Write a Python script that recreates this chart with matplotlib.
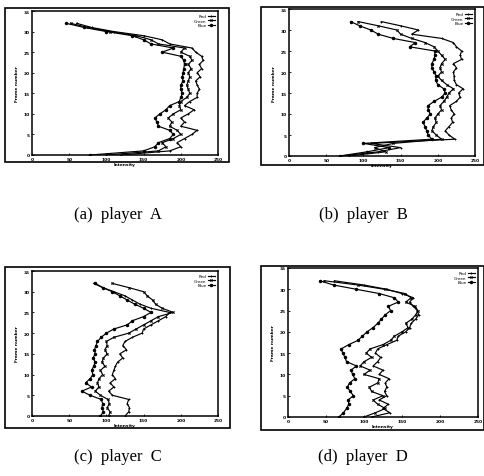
import matplotlib
matplotlib.use("Agg")
import matplotlib.pyplot as plt
from matplotlib.patches import Rectangle

W, H = 485, 477

# intensity per frame (frame 0..32)
frames = list(range(33))

a_red = [120, 185, 200, 195, 205, 215, 222, 200, 205, 200, 210, 218, 205, 212, 222, 222, 225,
         222, 220, 226, 222, 228, 225, 230, 228, 220, 215, 185, 175, 150, 110, 80, 60]
a_green = [100, 170, 180, 175, 190, 200, 195, 185, 188, 183, 190, 200, 198, 200, 208, 212, 210,
           208, 210, 212, 210, 214, 210, 215, 212, 200, 205, 170, 160, 140, 105, 75, 52]
a_blue = [78, 150, 165, 170, 185, 190, 185, 170, 168, 165, 172, 180, 185, 198, 200, 202, 200,
          200, 203, 202, 203, 204, 205, 204, 200, 175, 190, 160, 150, 135, 100, 70, 46]

b_red = [70, 120, 150, 110, 223, 215, 210, 215, 220, 218, 222, 218, 216, 225, 230, 228, 234,
         225, 222, 222, 221, 225, 221, 232, 230, 232, 225, 221, 205, 165, 174, 150, 124]
b_green = [80, 130, 115, 140, 205, 198, 192, 194, 198, 196, 200, 205, 203, 208, 212, 215, 221,
           212, 205, 200, 205, 203, 205, 210, 205, 200, 195, 183, 165, 150, 145, 120, 93]
b_blue = [68, 105, 135, 100, 192, 187, 185, 183, 180, 185, 190, 187, 187, 195, 205, 210, 208,
          200, 197, 198, 195, 192, 192, 195, 196, 196, 162, 170, 140, 120, 110, 95, 83]

c_red = [125, 130, 131, 128, 130, 108, 103, 110, 105, 112, 108, 110, 112, 115, 122, 118, 127,
         122, 125, 135, 148, 150, 160, 170, 180, 185, 160, 145, 135, 125, 110, 95, 83]
c_green = [103, 105, 101, 104, 102, 92, 85, 90, 88, 90, 95, 92, 98, 94, 96, 101, 98,
           101, 100, 110, 130, 140, 150, 160, 170, 190, 175, 166, 162, 155, 150, 130, 108]
c_blue = [92, 96, 94, 95, 93, 78, 67, 80, 72, 78, 82, 80, 83, 85, 82, 85, 84,
          86, 88, 93, 100, 110, 128, 135, 150, 160, 150, 138, 128, 118, 108, 95, 85]

d_red = [110, 134, 125, 132, 120, 130, 127, 130, 128, 133, 120, 125, 112, 118, 122, 115, 118,
         130, 143, 145, 155, 160, 162, 168, 172, 170, 165, 160, 165, 150, 130, 100, 61]
d_green = [100, 115, 128, 118, 112, 125, 110, 107, 118, 120, 100, 108, 95, 100, 110, 103, 108,
           125, 135, 140, 150, 158, 155, 163, 168, 171, 167, 155, 162, 154, 127, 92, 48]
d_blue = [67, 73, 77, 80, 79, 86, 82, 78, 81, 88, 85, 83, 90, 77, 75, 72, 70,
          80, 92, 98, 104, 112, 118, 123, 128, 135, 132, 145, 140, 120, 90, 60, 42]

captions = ["(a)  player  A", "(b)  player  B", "(c)  player  C", "(d)  player  D"]
series = [(a_red, a_green, a_blue), (b_red, b_green, b_blue),
          (c_red, c_green, c_blue), (d_red, d_green, d_blue)]

# pixel boxes (x0, y0, x1, y1) for axes and outer frames
ax_boxes = [(32, 12, 218, 156), (289, 10, 475, 157), (32, 272, 218, 417), (288, 269, 478, 418)]
frame_boxes = [(5, 9, 229, 163), (261, 8, 484, 166), (5, 268, 230, 429), (261, 267, 484, 431)]
cap_pos = [(118, 215), (363, 215), (118, 457), (363, 457)]


def fig_rect(b):
    x0, y0, x1, y1 = b
    return [x0 / W, 1 - y1 / H, (x1 - x0) / W, (y1 - y0) / H]


fig = plt.figure(figsize=(W / 100, H / 100), dpi=100)

for i in range(4):
    ax = fig.add_axes(fig_rect(ax_boxes[i]))
    r, g, b = series[i]
    ax.plot(r, frames, color="black", lw=0.85, marker="+", ms=2, mew=0.7, label="Red")
    ax.plot(g, frames, color="black", lw=0.85, marker="x", ms=1.6, mew=0.7, label="Green")
    ax.plot(b, frames, color="black", lw=0.85, marker="o", ms=1.5, label="Blue")
    ax.set_xlim(0, 250)
    ax.set_ylim(0, 35)
    ax.set_xticks([0, 50, 100, 150, 200, 250])
    ax.set_yticks([0, 5, 10, 15, 20, 25, 30, 35])
    ax.tick_params(labelsize=3.2, length=1.5, width=0.6, pad=1.5, direction="in")
    for lab in ax.get_xticklabels() + ax.get_yticklabels():
        lab.set_fontweight("bold")
    for s in ax.spines.values():
        s.set_linewidth(1.1)
    ax.set_xlabel("Intensity", fontsize=3.2, labelpad=0.5, fontweight="bold")
    ax.set_ylabel("Frame number", fontsize=3.2, labelpad=3, fontweight="bold")
    ax.legend(loc="upper right", fontsize=3, frameon=False, handlelength=1.6,
              borderpad=0.3, labelspacing=0.1, handletextpad=0.4, markerfirst=False)

    fx, fy, fw, fh = fig_rect(frame_boxes[i])
    fig.add_artist(Rectangle((fx, fy), fw, fh, transform=fig.transFigure,
                             fill=False, edgecolor="black", lw=1.2))
    cx, cy = cap_pos[i]
    fig.text(cx / W, 1 - cy / H, captions[i], ha="center", va="center",
             fontsize=12, family="Liberation Serif")

plt.savefig("out.png", dpi=100)
